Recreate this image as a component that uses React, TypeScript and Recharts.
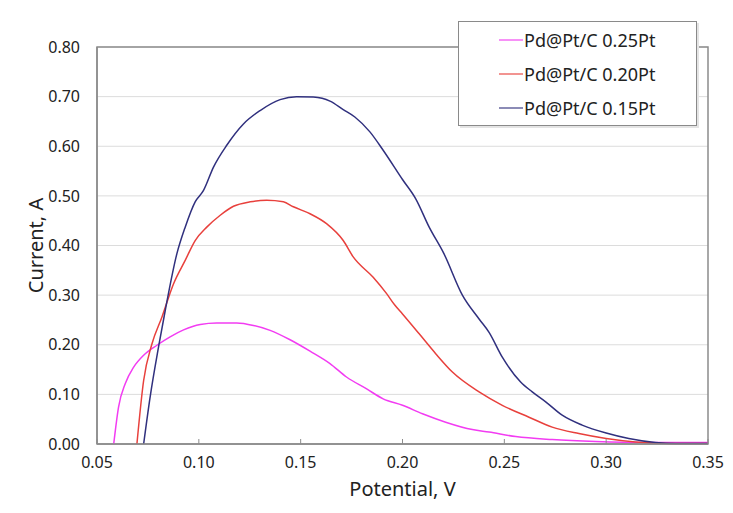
import {
  LineChart,
  Line,
  XAxis,
  YAxis,
  CartesianGrid,
  ReferenceArea,
  Legend,
} from "recharts";

// potential (V) / current (A), one pair of arrays per sample
const pt25Potential = [
  0.0582, 0.0606, 0.0639, 0.068, 0.0729, 0.0794, 0.0859, 0.0925, 0.1007, 0.1088,
  0.1186, 0.1268, 0.135, 0.1448, 0.1546, 0.1644, 0.1725, 0.1824, 0.1905, 0.2,
  0.2098, 0.2212, 0.2343, 0.2425, 0.2556, 0.2735, 0.2948, 0.3209, 0.35,
];
const pt25Current = [
  0, 0.075, 0.122, 0.155, 0.179, 0.199, 0.216, 0.23, 0.241, 0.244,
  0.244, 0.239, 0.229, 0.21, 0.187, 0.162, 0.135, 0.111, 0.091, 0.078,
  0.061, 0.044, 0.029, 0.024, 0.015, 0.009, 0.005, 0.003, 0.003,
];

const pt20Potential = [
  0.0696, 0.0729, 0.077, 0.0819, 0.0876, 0.0933, 0.0982, 0.1039, 0.1105, 0.117,
  0.1252, 0.1333, 0.1415, 0.1464, 0.1546, 0.1627, 0.1709, 0.1758, 0.1856, 0.1922,
  0.1962, 0.2, 0.2082, 0.2163, 0.2245, 0.2376, 0.249, 0.2621, 0.2735, 0.2866,
  0.3, 0.3144, 0.3307, 0.35,
];
const pt20Current = [
  0, 0.128, 0.202, 0.256, 0.323, 0.37, 0.41, 0.437, 0.461, 0.479,
  0.488, 0.491, 0.488, 0.478, 0.464, 0.444, 0.41, 0.377, 0.336, 0.303,
  0.28, 0.262, 0.222, 0.182, 0.145, 0.105, 0.078, 0.054, 0.034, 0.021,
  0.011, 0.004, 0.001, 0.001,
];

const pt15Potential = [
  0.0729, 0.0761, 0.0802, 0.0835, 0.0892, 0.0933, 0.0982, 0.1023, 0.1072, 0.1137,
  0.1219, 0.1301, 0.1399, 0.148, 0.1562, 0.1644, 0.1709, 0.1766, 0.184, 0.1905,
  0.2, 0.2065, 0.2131, 0.2204, 0.2294, 0.2376, 0.2425, 0.249, 0.258, 0.2637,
  0.2703, 0.2784, 0.2882, 0.3, 0.3111, 0.3242, 0.334, 0.35,
];
const pt15Current = [
  0, 0.095, 0.195, 0.269, 0.383, 0.437, 0.488, 0.511, 0.558, 0.602,
  0.645, 0.672, 0.694, 0.7, 0.699, 0.691, 0.674, 0.659, 0.629, 0.592,
  0.533, 0.494, 0.437, 0.383, 0.3, 0.252, 0.225, 0.175, 0.125, 0.105,
  0.085, 0.058, 0.038, 0.022, 0.011, 0.003, 0.001, 0.001,
];

const xTicks = [0.05, 0.1, 0.15, 0.2, 0.25, 0.3, 0.35];
const yTicks = [0, 0.1, 0.2, 0.3, 0.4, 0.5, 0.6, 0.7, 0.8];

const series = [
  { name: "Pd@Pt/C 0.25Pt", color: "#f23cf2", x: pt25Potential, y: pt25Current },
  { name: "Pd@Pt/C 0.20Pt", color: "#e8403c", x: pt20Potential, y: pt20Current },
  { name: "Pd@Pt/C 0.15Pt", color: "#30307e", x: pt15Potential, y: pt15Current },
].map((s) => ({ ...s, data: s.x.map((v, i) => ({ potential: v, current: s.y[i] })) }));

const font = "'Noto Sans', sans-serif";
const axisGray = "#8c8c8c";

const XTick = ({ x, y, payload }: { x: number; y: number; payload: { value: number } }) => (
  <g>
    <line x1={x} x2={x} y1={y - 13} y2={y - 18} stroke={axisGray} />
    <text x={x} y={y} dy="0.71em" textAnchor="middle" fontSize={16} fill="#222" fontFamily={font}>
      {payload.value.toFixed(2)}
    </text>
  </g>
);

const LegendBox = () => (
  <div
    style={{
      width: 239,
      height: 105,
      border: "1.5px solid #8a8a8a",
      background: "#fff",
      boxShadow: "2px 2px 0 #e4e4e4",
      paddingTop: 1,
      boxSizing: "border-box",
      fontFamily: font,
      fontSize: 18,
      color: "#222",
    }}
  >
    {series.map((s) => (
      <div key={s.name} style={{ display: "flex", alignItems: "center", height: 34, paddingLeft: 40 }}>
        <svg width={24} height={4} style={{ display: "block" }}>
          <line x1={0} x2={24} y1={2} y2={2} stroke={s.color} strokeWidth={1.5} strokeOpacity={0.75} />
        </svg>
        <span style={{ marginLeft: 1 }}>{s.name}</span>
      </div>
    ))}
  </div>
);

export default function App() {
  return (
    <div style={{ width: 717, height: 497 }}>
      <LineChart width={717} height={497} margin={{ top: 39, right: 17, left: 0, bottom: 11 }}>
        <CartesianGrid horizontal vertical={false} stroke="#dcdcdc" />
        <ReferenceArea
          x1={0.05}
          x2={0.35}
          y1={0}
          y2={0.8}
          fill="none"
          stroke={axisGray}
          strokeWidth={1.5}
          ifOverflow="visible"
        />
        <XAxis
          type="number"
          dataKey="potential"
          domain={[0.05, 0.35]}
          ticks={xTicks}
          allowDuplicatedCategory={false}
          height={50}
          axisLine={{ stroke: axisGray, strokeWidth: 1.5 }}
          tickLine={false}
          tickSize={0}
          tickMargin={13}
          tick={XTick}
          label={{
            value: "Potential, V",
            position: "insideBottom",
            offset: -2,
            fontSize: 20,
            fill: "#222",
            fontFamily: font,
          }}
        />
        <YAxis
          type="number"
          dataKey="current"
          domain={[0, 0.8]}
          ticks={yTicks}
          width={89}
          axisLine={{ stroke: axisGray, strokeWidth: 1.5 }}
          tickLine={false}
          tickSize={0}
          tickMargin={17}
          tickFormatter={(v: number) => v.toFixed(2)}
          tick={{ fontSize: 16, fill: "#222", fontFamily: font }}
          label={{
            value: "Current, A",
            angle: -90,
            position: "insideLeft",
            offset: 28,
            style: { textAnchor: "middle" },
            fontSize: 20,
            fill: "#222",
            fontFamily: font,
          }}
        />
        <Legend
          layout="vertical"
          verticalAlign="middle"
          align="center"
          wrapperStyle={{ top: 13, left: 450, width: 239, height: 105 }}
          content={LegendBox}
        />
        {series.map((s) => (
          <Line
            key={s.name}
            data={s.data}
            dataKey="current"
            name={s.name}
            type="monotone"
            stroke={s.color}
            strokeWidth={1.5}
            dot={false}
            activeDot={false}
            isAnimationActive={false}
          />
        ))}
      </LineChart>
    </div>
  );
}
